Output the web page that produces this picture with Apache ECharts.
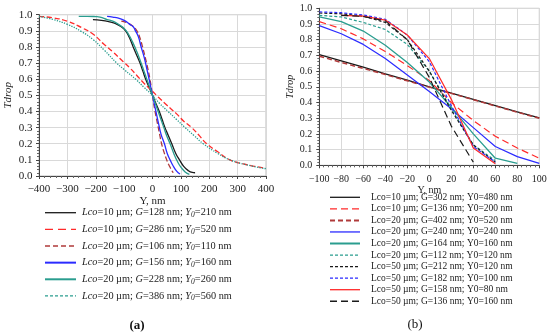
<!DOCTYPE html>
<html><head><meta charset="utf-8">
<script src="https://cdn.jsdelivr.net/npm/echarts@6/dist/echarts.min.js"></script>
<style>html,body{margin:0;padding:0;background:#fff}#c{width:550px;height:334px}</style>
</head><body><div id="c"></div>
<script>
// ---------- Panel (a) data: [Y nm, Tdrop] ----------
const aBlack = [[-210,0.97],[-180,0.965],[-150,0.955],[-130,0.945],[-110,0.925],[-95,0.9],[-82,0.86],[-68,0.8],[-56,0.75],[-44,0.7],[-34,0.65],[-24,0.6],[-12,0.55],[0,0.5],[12,0.45],[24,0.4],[34,0.35],[44,0.3],[56,0.25],[68,0.2],[82,0.14],[95,0.1],[110,0.06],[125,0.035],[140,0.022],[150,0.02]];
const aRedLong = [[-400,0.99],[-350,0.98],[-300,0.96],[-250,0.92],[-210,0.88],[-173,0.82],[-140,0.77],[-104,0.71],[-80,0.67],[-56,0.625],[-30,0.575],[0,0.525],[20,0.49],[50,0.44],[85,0.385],[110,0.34],[138,0.3],[165,0.25],[191,0.2],[230,0.15],[273,0.1],[320,0.075],[360,0.06],[400,0.047]];
const aBrown = [[-110,0.96],[-90,0.95],[-70,0.93],[-55,0.9],[-45,0.86],[-35,0.8],[-25,0.73],[-17,0.67],[-9,0.6],[0,0.5],[9,0.4],[17,0.33],[25,0.26],[32,0.2],[42,0.14],[50,0.1],[60,0.06],[73,0.02]];
const aBlue = [[-160,0.99],[-140,0.985],[-120,0.978],[-100,0.965],[-80,0.94],[-68,0.925],[-60,0.9],[-50,0.864],[-40,0.8],[-30,0.74],[-22,0.68],[-12,0.6],[0,0.5],[12,0.4],[22,0.32],[30,0.26],[42,0.2],[52,0.14],[62,0.1],[72,0.065],[85,0.03],[97,0.012]];
const aTeal = [[-260,0.99],[-230,0.99],[-200,0.988],[-185,0.985],[-160,0.97],[-140,0.96],[-120,0.94],[-100,0.915],[-85,0.88],[-70,0.83],[-55,0.77],[-40,0.7],[-28,0.64],[-15,0.575],[0,0.5],[15,0.425],[28,0.36],[40,0.3],[50,0.25],[62,0.2],[75,0.14],[88,0.09],[100,0.055],[115,0.025],[130,0.01]];
const aTealDash = [[-400,0.99],[-350,0.97],[-300,0.94],[-250,0.895],[-209,0.845],[-170,0.78],[-126,0.7],[-100,0.66],[-56,0.595],[-30,0.55],[0,0.5],[25,0.45],[55,0.4],[85,0.35],[115,0.3],[147,0.25],[179,0.2],[230,0.14],[273,0.1],[330,0.07],[400,0.045]];
const aLco = [10,10,20,20,20,20];
const aG   = [128,286,106,156,228,386];
const aY0  = [210,520,110,160,260,560];

// ---------- Panel (b) data ----------
const bBlack = [[-100,0.705],[-80,0.665],[-60,0.625],[-40,0.583],[-20,0.542],[0,0.5],[20,0.46],[40,0.42],[60,0.38],[80,0.34],[100,0.302]];
const bRedLong = [[-100,0.915],[-80,0.87],[-60,0.805],[-40,0.725],[-20,0.635],[0,0.54],[20,0.4],[40,0.285],[60,0.185],[80,0.11],[100,0.045]];
const bBrown = [[-100,0.695],[-80,0.655],[-60,0.617],[-40,0.578],[-20,0.538],[0,0.498],[20,0.458],[40,0.418],[60,0.378],[80,0.338],[100,0.3]];
const bBlue = [[-100,0.89],[-80,0.838],[-60,0.77],[-40,0.68],[-20,0.575],[0,0.47],[20,0.36],[40,0.24],[60,0.12],[80,0.055],[100,0.012]];
const bTeal = [[-100,0.945],[-80,0.915],[-60,0.855],[-40,0.765],[-20,0.655],[0,0.53],[20,0.37],[40,0.2],[60,0.045],[80,0.012]];
const bTealDash = [[-100,0.955],[-80,0.945],[-60,0.91],[-40,0.865],[-20,0.77],[0,0.6],[20,0.36],[40,0.13],[60,0.03]];
const bBlackDash = [[-100,0.97],[-80,0.965],[-60,0.95],[-40,0.91],[-20,0.8],[0,0.6],[20,0.35],[40,0.13],[60,0.02]];
const bBlueDash = [[-100,0.977],[-80,0.972],[-60,0.958],[-40,0.93],[-20,0.83],[0,0.66],[20,0.38],[40,0.12],[60,0.02]];
const bRed = [[-80,0.955],[-60,0.95],[-40,0.925],[-20,0.83],[0,0.68],[20,0.42],[40,0.11],[60,0.01]];
const bBlackLong = [[-80,0.955],[-60,0.948],[-40,0.92],[-20,0.8],[0,0.56],[20,0.25],[40,0.02]];
const bLco = [10,10,20,20,20,20,50,50,50,50];
const bG   = [302,136,402,240,164,112,212,182,158,136];
const bY0  = [480,200,520,240,160,120,120,100,80,160];

// ---------- styles ----------
const FONT = 'Liberation Serif';
const BLACK = '#1a1a1a', RED = '#ff2a2a', BROWN = '#b03a3a', BLUE = '#2b2bff', TEAL = '#2a9d8f';
const aData = [aBlack, aRedLong, aBrown, aBlue, aTeal, aTealDash];
const aStyle = [
  {color: BLACK, type: 'solid', width: 1.3},
  {color: RED, type: 'dashed', dashOffset: 0, width: 1.3},
  {color: BROWN, type: 'dashed', width: 1.3},
  {color: BLUE, type: 'solid', width: 1.3},
  {color: TEAL, type: 'solid', width: 1.3},
  {color: TEAL, type: 'dotted', width: 1.3}
];
const aKeyDash = [null, [8,5], [5,3], null, null, [3,2]];
const bData = [bBlack, bRedLong, bBrown, bBlue, bTeal, bTealDash, bBlackDash, bBlueDash, bRed, bBlackLong];
const bStyle = [
  {color: BLACK, type: 'solid', width: 1.3},
  {color: RED, type: [7,4], width: 1.2},
  {color: BROWN, type: [5,3], width: 1.5},
  {color: BLUE, type: 'solid', width: 1.2},
  {color: TEAL, type: 'solid', width: 1.3},
  {color: TEAL, type: [3,2], width: 1.2},
  {color: BLACK, type: [3,2], width: 1.2},
  {color: BLUE, type: [3,2], width: 1.2},
  {color: RED, type: 'solid', width: 1.2},
  {color: BLACK, type: [7,4], width: 1.2}
];

const series = [];
aData.forEach((d,i)=>series.push({type:'line', name:'a'+i, xAxisIndex:0, yAxisIndex:0, data:d, symbol:'none', smooth:true, lineStyle:aStyle[i]}));
bData.forEach((d,i)=>series.push({type:'line', name:'b'+i, xAxisIndex:1, yAxisIndex:1, data:d, symbol:'none', smooth:false, lineStyle:bStyle[i]}));

const minus = v => (v < 0 ? '\u2212' + Math.abs(v) : String(v));
function xAx(grid, min, max, interval, fs, margin, nameGap) {
  return {type:'value', gridIndex:grid, min, max, interval,
    axisLine:{show:true, onZero:false, lineStyle:{color:'#444', width:1}},
    axisTick:{show:true, length:3, lineStyle:{color:'#444'}},
    minorTick:{show:true, splitNumber:5, length:2, lineStyle:{color:'#666'}},
    splitLine:{show:true, lineStyle:{color:'#d9d9d9', width:1}},
    axisLabel:{fontFamily:FONT, fontSize:fs, color:'#222', margin, formatter:minus},
    name:'Y, nm', nameLocation:'middle', nameGap, nameTextStyle:{fontFamily:FONT, fontSize:fs, color:'#222'}};
}
function yAx(grid, fs, margin, nameGap) {
  return {type:'value', gridIndex:grid, min:0, max:1, interval:0.1,
    axisLine:{show:true, onZero:false, lineStyle:{color:'#444', width:1}},
    axisTick:{show:true, length:3, lineStyle:{color:'#444'}},
    minorTick:{show:true, splitNumber:5, length:2, lineStyle:{color:'#666'}},
    splitLine:{show:true, lineStyle:{color:'#d9d9d9', width:1}},
    axisLabel:{fontFamily:FONT, fontSize:fs, color:'#222', margin, formatter:v=>v.toFixed(1)},
    name:'Tdrop', nameLocation:'middle', nameGap, nameRotate:90,
    nameTextStyle:{fontFamily:FONT, fontSize:fs, fontStyle:'italic', color:'#222'}};
}

// ---------- legend keys (drawn as graphic) ----------
const graphic = [];
function dashOf(t){ return Array.isArray(t) ? t : null; }
aLco.forEach((l,i)=>{
  const y = 212.7 + i*16.65, s = aStyle[i];
  graphic.push({type:'line', shape:{x1:45, y1:y, x2:76, y2:y}, style:{stroke:s.color, lineWidth:(i===3||i===4)?2:1.3, lineDash:aKeyDash[i]}});
  graphic.push({type:'text', style:{x:82, y:y, verticalAlign:'middle', align:'left',
    text:`{i|Lco}{n|=${l} µm; }{i|G}{n|=${aG[i]} nm; }{i|Y}{s|0}{n|=${aY0[i]} nm}`,
    rich:{i:{fontFamily:FONT, fontSize:10.3, fontStyle:'italic', fill:'#222'},
          n:{fontFamily:FONT, fontSize:10.3, fill:'#222'},
          s:{fontFamily:FONT, fontSize:7.5, fontStyle:'italic', fill:'#222', padding:[5,0,0,0]}}}});
});
bLco.forEach((l,i)=>{
  const y = 197.3 + i*11.55, s = bStyle[i];
  graphic.push({type:'line', shape:{x1:330, y1:y, x2:360, y2:y}, style:{stroke:s.color, lineWidth:(i===2||i===4)?2:1.3, lineDash:dashOf(s.type)}});
  graphic.push({type:'text', style:{x:371, y:y, verticalAlign:'middle', align:'left',
    text:`Lco=${l} µm; G=${bG[i]} nm; Y0=${bY0[i]} nm`, fontFamily:FONT, fontSize:9.5, fill:'#222'}});
});
graphic.push({type:'text', style:{text:'(a)', x:137, y:326, fontFamily:FONT, fontSize:13, fontWeight:'bold', fill:'#111', align:'center', verticalAlign:'middle'}});
graphic.push({type:'text', style:{text:'(b)', x:415, y:325, fontFamily:FONT, fontSize:13, fill:'#111', align:'center', verticalAlign:'middle'}});

const chart = echarts.init(document.getElementById('c'));
chart.setOption({animation:false,
  grid:[
    {left:39, right:284, top:14.7, bottom:158, show:true, borderColor:'#bdbdbd', borderWidth:1, containLabel:false},
    {left:319.3, right:10.7, top:8.3, bottom:168.7, show:true, borderColor:'#bdbdbd', borderWidth:1, containLabel:false}
  ],
  xAxis:[xAx(0,-400,400,100,11,8,20), xAx(1,-100,100,20,10,9,18.5)],
  yAxis:[yAx(0,11,6.5,25), yAx(1,10,7,23.5)],
  graphic,
  series});
</script></body></html>
